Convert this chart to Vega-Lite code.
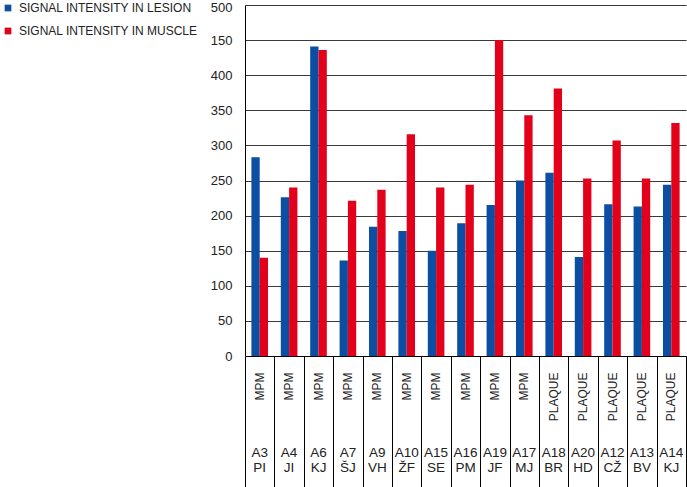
{
  "$schema": "https://vega.github.io/schema/vega-lite/v6.json",
  "width": 441,
  "height": 351,
  "autosize": {"type": "none"},
  "padding": {"left": 245, "top": 5, "right": 1, "bottom": 131},
  "background": "white",
  "config": {"view": {"stroke": null}},
  "data": {"values": [
    {"key": "A3|PI|MPM", "series": "SIGNAL INTENSITY IN LESION", "value": 283},
    {"key": "A3|PI|MPM", "series": "SIGNAL INTENSITY IN MUSCLE", "value": 140},
    {"key": "A4|JI|MPM", "series": "SIGNAL INTENSITY IN LESION", "value": 226},
    {"key": "A4|JI|MPM", "series": "SIGNAL INTENSITY IN MUSCLE", "value": 240},
    {"key": "A6|KJ|MPM", "series": "SIGNAL INTENSITY IN LESION", "value": 441},
    {"key": "A6|KJ|MPM", "series": "SIGNAL INTENSITY IN MUSCLE", "value": 436},
    {"key": "A7|ŠJ|MPM", "series": "SIGNAL INTENSITY IN LESION", "value": 136},
    {"key": "A7|ŠJ|MPM", "series": "SIGNAL INTENSITY IN MUSCLE", "value": 221},
    {"key": "A9|VH|MPM", "series": "SIGNAL INTENSITY IN LESION", "value": 184},
    {"key": "A9|VH|MPM", "series": "SIGNAL INTENSITY IN MUSCLE", "value": 237},
    {"key": "A10|ŽF|MPM", "series": "SIGNAL INTENSITY IN LESION", "value": 178},
    {"key": "A10|ŽF|MPM", "series": "SIGNAL INTENSITY IN MUSCLE", "value": 316},
    {"key": "A15|SE|MPM", "series": "SIGNAL INTENSITY IN LESION", "value": 150},
    {"key": "A15|SE|MPM", "series": "SIGNAL INTENSITY IN MUSCLE", "value": 240},
    {"key": "A16|PM|MPM", "series": "SIGNAL INTENSITY IN LESION", "value": 189},
    {"key": "A16|PM|MPM", "series": "SIGNAL INTENSITY IN MUSCLE", "value": 244},
    {"key": "A19|JF|MPM", "series": "SIGNAL INTENSITY IN LESION", "value": 215},
    {"key": "A19|JF|MPM", "series": "SIGNAL INTENSITY IN MUSCLE", "value": 450},
    {"key": "A17|MJ|MPM", "series": "SIGNAL INTENSITY IN LESION", "value": 250},
    {"key": "A17|MJ|MPM", "series": "SIGNAL INTENSITY IN MUSCLE", "value": 343},
    {"key": "A18|BR|PLAQUE", "series": "SIGNAL INTENSITY IN LESION", "value": 261},
    {"key": "A18|BR|PLAQUE", "series": "SIGNAL INTENSITY IN MUSCLE", "value": 381},
    {"key": "A20|HD|PLAQUE", "series": "SIGNAL INTENSITY IN LESION", "value": 141},
    {"key": "A20|HD|PLAQUE", "series": "SIGNAL INTENSITY IN MUSCLE", "value": 253},
    {"key": "A12|CŽ|PLAQUE", "series": "SIGNAL INTENSITY IN LESION", "value": 216},
    {"key": "A12|CŽ|PLAQUE", "series": "SIGNAL INTENSITY IN MUSCLE", "value": 307},
    {"key": "A13|BV|PLAQUE", "series": "SIGNAL INTENSITY IN LESION", "value": 213},
    {"key": "A13|BV|PLAQUE", "series": "SIGNAL INTENSITY IN MUSCLE", "value": 253},
    {"key": "A14|KJ|PLAQUE", "series": "SIGNAL INTENSITY IN LESION", "value": 244},
    {"key": "A14|KJ|PLAQUE", "series": "SIGNAL INTENSITY IN MUSCLE", "value": 332}
  ]},
  "resolve": {"axis": {"x": "independent"}},
  "encoding": {
    "y": {
      "field": "value", "type": "quantitative",
      "scale": {"domain": [0, 500], "nice": false},
      "axis": {
        "title": null, "values": [0, 50, 100, 150, 200, 250, 300, 350, 400, 450, 500],
        "labelExpr": "datum.value == 450 ? '150' : datum.label",
        "labelOverlap": false,
        "labelOffset": {"condition": {"test": "datum.value == 500", "value": 2}, "value": 0},
        "grid": true, "gridColor": "#3a3a3a", "gridWidth": 1,
        "domain": true, "domainColor": "#000000", "ticks": false, "labelPadding": 13,
        "labelFont": "Liberation Sans", "labelFontSize": 13, "labelColor": "#222222"
      }
    }
  },
  "layer": [
    {
      "mark": {"type": "bar"},
      "encoding": {
        "x": {
          "field": "key", "type": "nominal", "sort": null,
          "scale": {"paddingInner": 0, "paddingOuter": 0},
          "axis": {
            "orient": "bottom", "title": null, "grid": false,
            "domain": true, "domainColor": "#000000", "domainWidth": 1,
            "ticks": false, "labelAngle": 270, "labelPadding": 16,
            "labelExpr": "split(datum.value, '|')[2]",
            "labelFont": "Liberation Sans", "labelFontSize": 12, "labelColor": "#222222"
          }
        },
        "xOffset": {"field": "series", "type": "nominal", "scale": {"paddingInner": 0, "paddingOuter": 0.77}},
        "color": {
          "field": "series", "type": "nominal",
          "scale": {"domain": ["SIGNAL INTENSITY IN LESION", "SIGNAL INTENSITY IN MUSCLE"], "range": ["#0b4ea2", "#e2001a"]},
          "legend": {
            "orient": "none", "legendX": -243, "legendY": -3, "title": null,
            "symbolType": "square", "symbolSize": 45, "symbolStrokeWidth": 0, "symbolOpacity": 1,
            "padding": 0, "rowPadding": 11, "labelOffset": 5, "labelLimit": 0,
            "labelFont": "Liberation Sans", "labelFontSize": 12, "labelColor": "#222222"
          }
        }
      }
    },
    {
      "mark": {"type": "bar", "opacity": 0},
      "encoding": {
        "x": {
          "field": "key", "type": "nominal", "sort": null,
          "axis": {
            "orient": "bottom", "title": null, "grid": false, "domain": false,
            "labels": false, "ticks": true, "tickBand": "extent", "tickSize": 131,
            "tickColor": "#000000", "tickWidth": 1
          }
        }
      }
    },
    {
      "mark": {"type": "bar", "opacity": 0},
      "encoding": {
        "x": {
          "field": "key", "type": "nominal", "sort": null,
          "axis": {
            "orient": "bottom", "title": null, "grid": false, "domain": false,
            "ticks": false, "labelAngle": 0, "labelPadding": 89,
            "labelExpr": "[split(datum.value, '|')[0], split(datum.value, '|')[1]]",
            "labelLineHeight": 15, "labelBaseline": "top",
            "labelFont": "Liberation Sans", "labelFontSize": 13.5, "labelColor": "#222222"
          }
        }
      }
    }
  ]
}
